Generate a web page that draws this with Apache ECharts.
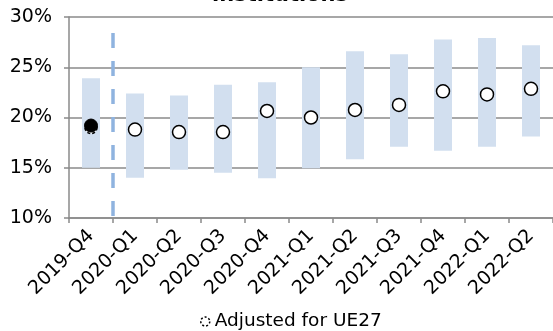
<!DOCTYPE html>
<html>
<head>
<meta charset="utf-8">
<script src="https://cdn.jsdelivr.net/npm/echarts@6/dist/echarts.min.js"></script>
<style>html,body{margin:0;padding:0;background:#fff;overflow:hidden;}#c{width:553px;height:331px;}</style>
</head>
<body>
<div id="c"></div>
<script>
var categories = ['2019-Q4','2020-Q1','2020-Q2','2020-Q3','2020-Q4','2021-Q1','2021-Q2','2021-Q3','2021-Q4','2022-Q1','2022-Q2'];
var rangeLow  = [15.0, 14.0, 14.8, 14.5, 13.95, 14.95, 15.85, 17.1, 16.7, 17.1, 18.1];
var rangeHigh = [23.9, 22.4, 22.2, 23.25, 23.5, 25.0, 26.6, 26.3, 27.75, 27.9, 27.2];
var median    = [null, 18.8, 18.55, 18.55, 20.65, 20.0, 20.75, 21.25, 22.6, 22.3, 22.85];
var unadjusted = [19.2, null, null, null, null, null, null, null, null, null, null];
var adjustedUE27 = [19.0, null, null, null, null, null, null, null, null, null, null];
var yTicks = [10, 15, 20, 25, 30];
var dividerX = 0.5;
var dividerY = [28.4, 10];
var titleText = 'institutions';

var rangeSize = rangeHigh.map(function (h, i) { return +(h - rangeLow[i]).toFixed(2); });
var font = 'DejaVu Sans';

var chart = echarts.init(document.getElementById('c'));
chart.setOption({
  animation: false,
  graphic: [{
    type: 'text', x: 280, y: -14.5, silent: true,
    style: { text: titleText, fontFamily: font, fontSize: 21, fontWeight: 'bold', fill: '#000',
      align: 'center', verticalAlign: 'top' }
  }],
  legend: {
    data: [{ name: 'Adjusted for UE27', icon: 'circle',
      itemStyle: { color: '#fff', borderColor: '#000', borderType: [2, 2], borderWidth: 1.5 } }],
    left: 200, top: 312, padding: 0, itemWidth: 9, itemHeight: 9, itemGap: 4,
    textStyle: { fontFamily: font, fontSize: 18.5, color: '#000' }
  },
  grid: { left: 69, right: -4, top: 17, bottom: 113, containLabel: false },
  xAxis: [{
    type: 'category', data: categories,
    axisLine: { lineStyle: { color: '#8a8a8a', width: 1.5 } },
    axisTick: { show: true, length: 5, lineStyle: { color: '#8a8a8a', width: 1.5 } },
    axisLabel: { rotate: 45, fontFamily: font, fontSize: 19, color: '#000', margin: 15, interval: 0 }
  }, {
    type: 'value', min: -0.5, max: 10.5, show: false
  }],
  yAxis: [{
    type: 'value', min: yTicks[0], max: yTicks[yTicks.length - 1], interval: 5,
    axisLine: { show: true, onZero: false, lineStyle: { color: '#8a8a8a', width: 1.5 } },
    axisTick: { show: true, length: 5, lineStyle: { color: '#8a8a8a', width: 1.5 } },
    splitLine: { lineStyle: { color: '#8a8a8a', width: 1.5 } },
    axisLabel: { fontFamily: font, fontSize: 19, color: '#000', margin: 17,
      formatter: function (v) { return v + '%'; } }
  }],
  series: [
    { name: 'base', type: 'bar', stack: 'r', data: rangeLow, barWidth: 18,
      itemStyle: { color: 'rgba(0,0,0,0)' }, silent: true },
    { name: 'range', type: 'bar', stack: 'r', data: rangeSize, barWidth: 18,
      itemStyle: { color: '#d2dfef' }, silent: true },
    { name: 'divider', type: 'line', xAxisIndex: 1, yAxisIndex: 0,
      data: dividerY.map(function (y) { return [dividerX, y]; }),
      symbol: 'none', lineStyle: { color: '#8fb3df', width: 3.5, type: [15, 13] }, z: 3 },
    { name: 'Adjusted for UE27', type: 'scatter', data: adjustedUE27, symbol: 'circle', symbolSize: 12,
      itemStyle: { color: '#fff', borderColor: '#000', borderType: [3, 2], borderWidth: 1.5, opacity: 1 }, z: 4 },
    { name: 'unadjusted', type: 'scatter', data: unadjusted, symbol: 'circle', symbolSize: 13,
      itemStyle: { color: '#000', borderColor: '#000', borderWidth: 1, opacity: 1 }, z: 5 },
    { name: 'median', type: 'scatter', data: median, symbol: 'circle', symbolSize: 13,
      itemStyle: { color: '#fff', borderColor: '#000', borderWidth: 1.5, opacity: 1 }, z: 5 }
  ]
});
</script>
</body>
</html>
